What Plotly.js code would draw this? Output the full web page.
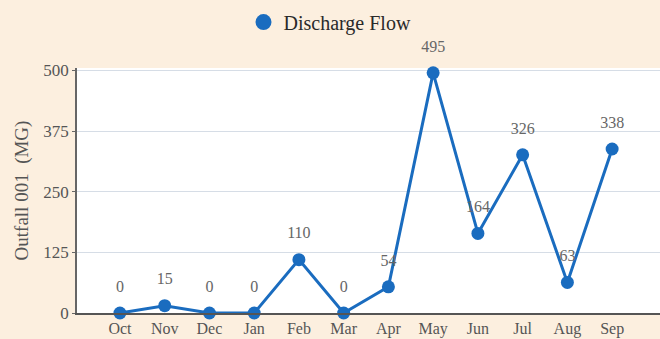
<!DOCTYPE html>
<html><head><meta charset="utf-8">
<script src="https://cdn.plot.ly/plotly-3.0.1.min.js"></script>
<style>html,body{margin:0;padding:0;background:#fcefdf}</style>
</head><body><div id="c" style="width:660px;height:339px"></div>
<script>
const months = ["Oct","Nov","Dec","Jan","Feb","Mar","Apr","May","Jun","Jul","Aug","Sep"];
const flow = [0,15,0,0,110,0,54,495,164,326,63,338];
const yTicks = [0,125,250,375,500];
const seriesName = "Discharge Flow";
const font = "Liberation Serif, Times New Roman, serif";
const blue = "#1a6cbf";
Plotly.newPlot("c", [{
  x: months, y: flow, name: seriesName, type: "scatter", mode: "lines+markers",
  showlegend: false,
  line: {color: blue, width: 3}, marker: {color: blue, size: 13},
  cliponaxis: false
}, {
  x: months, y: flow, name: seriesName, type: "scatter", mode: "markers+text",
  text: flow.map(String), textposition: "top center", showlegend: false, hoverinfo: "skip",
  textfont: {family: font, size: 16, color: "#666"},
  marker: {color: blue, size: 26, opacity: 0},
  cliponaxis: false
}, {
  x: [null], y: [null], name: seriesName, type: "scatter", mode: "markers",
  marker: {color: blue, size: 19}, showlegend: true, hoverinfo: "skip"
}], {
  width: 660, height: 339,
  paper_bgcolor: "#fcefdf", plot_bgcolor: "#ffffff",
  margin: {l: 77, r: 0, t: 68, b: 26, autoexpand: false},
  font: {family: font, color: "#555"},
  showlegend: true,
  legend: {orientation: "h", xref: "container", yref: "container", x: 0.5, xanchor: "center",
    y: 0.935, yanchor: "middle", itemsizing: "trace",
    font: {family: font, size: 20, color: "#2a2a2a"}, bgcolor: "rgba(0,0,0,0)"},
  xaxis: {type: "category", range: [-0.96, 12.07], showgrid: false, showline: true, linecolor: "#555",
    linewidth: 1.5, tickfont: {family: font, size: 16, color: "#555"}, ticks: "", zeroline: false},
  yaxis: {range: [0, 505], tickvals: yTicks, showgrid: true, gridcolor: "#d6dde6", gridwidth: 1,
    showline: true, linecolor: "#666", linewidth: 1.5, ticks: "outside", ticklen: 3, tickcolor: "#666",
    tickfont: {family: font, size: 17, color: "#555"}, zeroline: false,
    title: {text: "Outfall 001  (MG)", font: {family: font, size: 19, color: "#555"}, standoff: 10}}
}, {displayModeBar: false});
</script></body></html>
